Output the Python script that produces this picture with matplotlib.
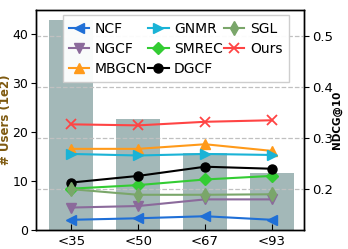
import matplotlib
matplotlib.use("Agg")
import matplotlib.pyplot as plt
import numpy as np

categories = ["<35", "<50", "<67", "<93"]
users = [42.9, 22.7, 15.7, 11.6]

methods = ["NCF", "NGCF", "MBGCN", "GNMR", "SMREC", "DGCF", "SGL", "Ours"]
ncf = [0.139, 0.142, 0.146, 0.139]
ngcf = [0.163, 0.166, 0.179, 0.179]
mbgcn = [0.278, 0.278, 0.287, 0.274]
gnmr = [0.268, 0.265, 0.268, 0.266]
smrec = [0.200, 0.207, 0.218, 0.225]
dgcf = [0.212, 0.225, 0.243, 0.239]
sgl = [0.199, 0.188, 0.188, 0.189]
ours = [0.326, 0.324, 0.331, 0.334]

series = [ncf, ngcf, mbgcn, gnmr, smrec, dgcf, sgl, ours]
colors = ["#1f6fd6", "#8b6a9b", "#ff9a1a", "#1ab3d6", "#33cc33", "#000000", "#7aa66a", "#ff4444"]
markers = ["<", "v", "^", ">", "D", "o", "d", "x"]
sizes = [7, 7, 7, 7, 6, 6.5, 7.5, 7]

fig = plt.figure(figsize=(3.48, 2.49), dpi=100)
ax = fig.add_axes([36/348, 1 - 229.5/249, (304 - 36)/348, (229.5 - 10)/249])
x = np.arange(len(categories))
ax.bar(x, users, width=0.66, color="#a3b8b8", zorder=1)
ax.set_ylim(0, 45)
ax.set_xlim(-0.53, 3.48)
ax.set_xticks(x)
ax.set_xticklabels(categories, fontsize=9.5)
ax.set_yticks([0, 10, 20, 30, 40])
ax.tick_params(axis="y", labelsize=9, length=3.5, width=0.8, pad=2)
ax.tick_params(axis="x", direction="in", length=4, width=0.8, pad=4)
ax.set_ylabel("# Users (1e2)", color="#7f5a10", fontweight="bold", fontsize=8.5)
ax.yaxis.set_label_coords(-0.088, 0.5)

ax2 = ax.twinx()
ax2.set_ylim(0.12, 0.55)
ax2.set_yticks([0.2, 0.3, 0.4, 0.5])
ax2.tick_params(axis="y", labelsize=9.5, length=3.5, width=0.8, pad=2)
ax2.grid(axis="y", linestyle="--", color="#c0c0c0", linewidth=0.9)
for name, vals, c, m, ms in zip(methods, series, colors, markers, sizes):
    mew = 1.3 if m == "x" else 1
    ax2.plot(x, vals, color=c, marker=m, markersize=ms, markeredgewidth=mew,
             linewidth=1.5, label=name)
ax2.set_ylabel("NDCG@10", fontweight="bold", fontsize=7.5)
ax2.yaxis.set_label_coords(1.104, 0.5)
ax2.legend(ncol=3, loc="upper left", bbox_to_anchor=(0.1, 0.975), fontsize=10,
           handlelength=1.45, handletextpad=0.4, columnspacing=0.1, labelspacing=0.45,
           borderpad=0.45, borderaxespad=0.0, fancybox=False, framealpha=0.95,
           edgecolor="#cccccc")

for a in (ax, ax2):
    for s in a.spines.values():
        s.set_linewidth(1.0)

fig.savefig("out.png", dpi=100)
